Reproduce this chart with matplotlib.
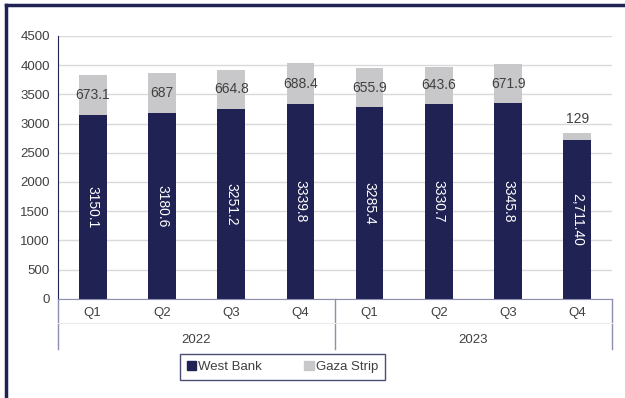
import matplotlib.pyplot as plt
from matplotlib.lines import Line2D
from matplotlib.patches import Patch

plt.rcParams['font.family'] = ['Liberation Sans', 'DejaVu Sans']

quarters = ['Q1', 'Q2', 'Q3', 'Q4', 'Q1', 'Q2', 'Q3', 'Q4']
years = ['2022', '2023']
west_bank = [3150.1, 3180.6, 3251.2, 3339.8, 3285.4, 3330.7, 3345.8, 2711.40]
gaza = [673.1, 687, 664.8, 688.4, 655.9, 643.6, 671.9, 129]
wb_labels = ['3150.1', '3180.6', '3251.2', '3339.8', '3285.4', '3330.7', '3345.8', '2,711.40']
gz_labels = ['673.1', '687', '664.8', '688.4', '655.9', '643.6', '671.9', '129']

navy = '#1f2252'
grey = '#c8c8ca'
txt = '#404040'

fig = plt.figure(figsize=(6.25, 3.98), dpi=100)
ax = fig.add_axes([0.093, 0.249, 0.886, 0.661])

x = range(len(quarters))
ax.bar(x, west_bank, width=0.4, color=navy, zorder=3, label='West Bank')
ax.bar(x, gaza, width=0.4, bottom=west_bank, color=grey, zorder=3, label='Gaza Strip')

# value labels
for i in x:
    ax.text(i, west_bank[i] / 2, wb_labels[i], rotation=-90, color='white',
            ha='center', va='center', fontsize=10, zorder=4)
    if gaza[i] > 300:
        ax.text(i, west_bank[i] + gaza[i] / 2, gz_labels[i], color=txt,
                ha='center', va='center', fontsize=10, zorder=4)
    else:
        ax.text(i, west_bank[i] + gaza[i] + 240, gz_labels[i], color=txt,
                ha='center', va='center', fontsize=10, zorder=4)

ax.set_xlim(-0.5, 7.5)
ax.set_ylim(0, 4500)
ax.set_yticks(range(0, 4501, 500))
ax.yaxis.grid(True, color='#d9d9d9', linewidth=1, zorder=0)
ax.tick_params(axis='y', length=0, labelsize=9.5, labelcolor=txt, pad=6)
ax.set_xticks([])
for s in ['top', 'right']:
    ax.spines[s].set_visible(False)
ax.spines['left'].set_color(navy)
ax.spines['bottom'].set_color('#8c8fae')
ax.spines['bottom'].set_zorder(5)

# two-level category axis
for i in x:
    ax.text(i, -0.052, quarters[i], transform=ax.get_xaxis_transform(),
            ha='center', va='center', fontsize=9.5, color=txt)
for k, yr in enumerate(years):
    ax.text(1.5 + 4 * k, -0.155, yr, transform=ax.get_xaxis_transform(),
            ha='center', va='center', fontsize=9.5, color=txt)
for xv in [-0.5, 3.5, 7.5]:
    ax.add_line(Line2D([xv, xv], [0, -0.19], transform=ax.get_xaxis_transform(),
                       color='#8c8fae', linewidth=1, clip_on=False))
ax.add_line(Line2D([-0.5, 7.5], [-0.09, -0.09], transform=ax.get_xaxis_transform(),
                   color='#ececec', linewidth=0.8, clip_on=False))

handles = [Patch(color=navy), Patch(color=grey)]
leg = fig.legend(handles, ['West Bank', 'Gaza Strip'], loc='center',
                 bbox_to_anchor=(0.452, 0.078), ncol=2, fontsize=9.5,
                 frameon=True, fancybox=False, handlelength=0.7, handleheight=0.7,
                 handletextpad=0.2, columnspacing=3.2, borderpad=0.5)
leg.get_frame().set_edgecolor(navy)
leg.get_frame().set_linewidth(1)
for t in leg.get_texts():
    t.set_color(txt)

# figure border (top and left)
fig.add_artist(Line2D([0.009, 1.0], [0.987, 0.987], color=navy, linewidth=2.5))
fig.add_artist(Line2D([0.009, 0.009], [0.0, 0.987], color=navy, linewidth=2.5))

fig.savefig('out.png', dpi=100)
